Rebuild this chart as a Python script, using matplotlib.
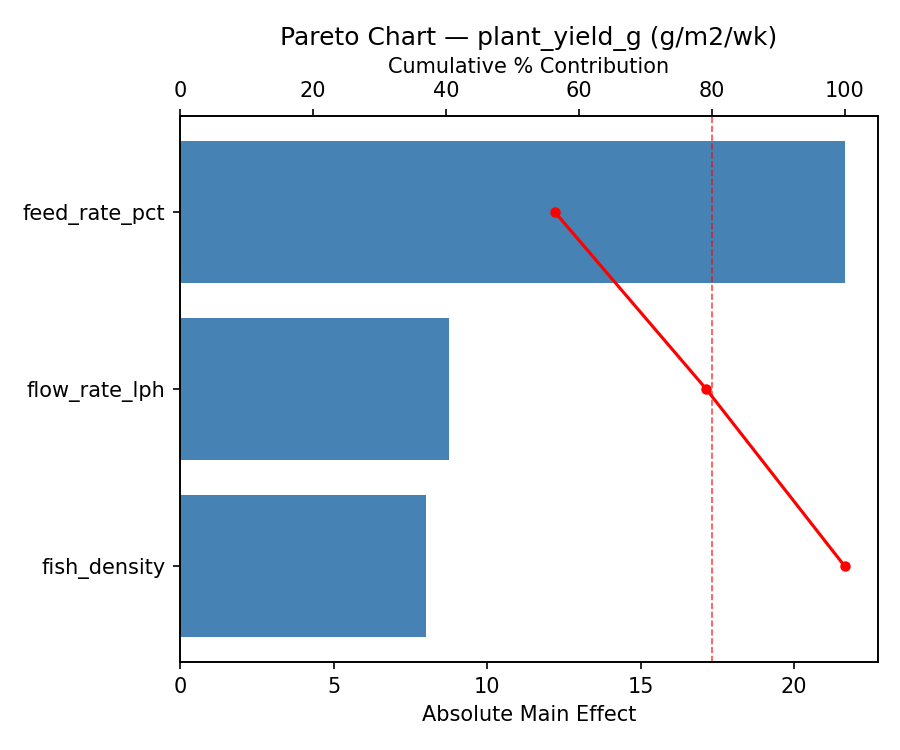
import matplotlib
matplotlib.use("Agg")
import matplotlib.pyplot as plt
import numpy as np

# Factor effects
factors = ['feed_rate_pct', 'flow_rate_lph', 'fish_density']
effects = [21.65, 8.76, 8.01]

cum_pct = np.cumsum(effects) / np.sum(effects) * 100
y_pos = np.arange(len(factors))

fig, ax = plt.subplots(figsize=(6, 5), dpi=150)

ax.barh(y_pos, effects, color='steelblue')
ax.set_yticks(y_pos)
ax.set_yticklabels(factors)
ax.invert_yaxis()
ax.set_xlabel('Absolute Main Effect')

ax2 = ax.twiny()
ax2.plot(cum_pct, y_pos, color='red', marker='o', markersize=4)
ax2.axvline(80, color='red', linestyle='--', linewidth=0.8, alpha=0.7)
ax2.set_xlim(0, 105)
ax2.set_xlabel('Cumulative % Contribution')

ax.set_title('Pareto Chart — plant_yield_g (g/m2/wk)')

fig.subplots_adjust(left=0.2, right=0.9756, top=0.8453, bottom=0.1173)
plt.savefig('out.png')
